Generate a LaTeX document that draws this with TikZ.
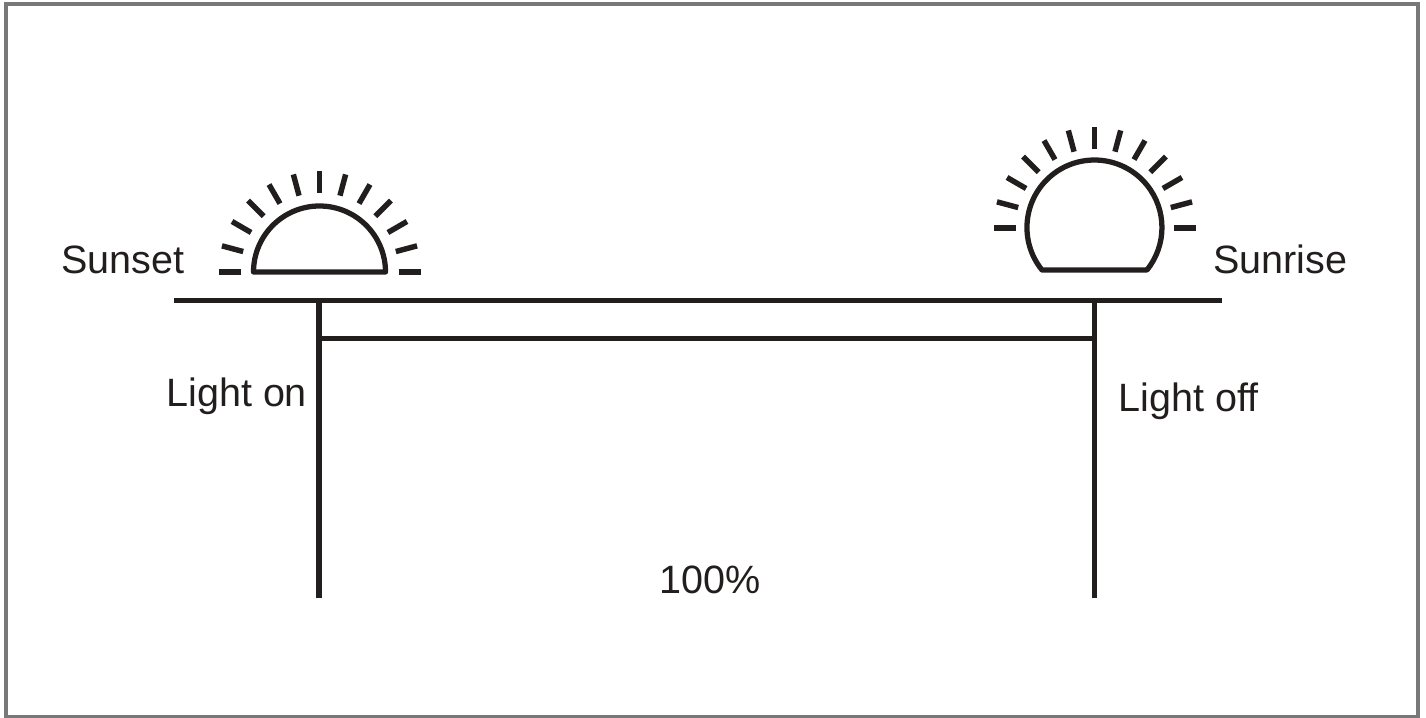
\documentclass[tikz,border=0pt]{standalone}
\usepackage{fontspec}
\setmainfont[Ligatures=NoCommon]{Liberation Sans}
\usepackage{xcolor}
\usetikzlibrary{positioning, calc}
\definecolor{inkLine}{RGB}{35, 30, 30}
\definecolor{frameGray}{RGB}{120, 120, 120}

\begin{document}
\begin{tikzpicture}[
        x=0.02cm, y=0.02cm,
        font=\fontsize{22.5}{26}\selectfont\color{inkLine},
        lbl/.style={inner sep=0pt, anchor=base west},
        bar/.style={line width=3pt, inkLine},
        sun/.style={line width=3pt, inkLine, line join=round},
        ray/.style={line width=3.1pt, inkLine}
    ]
    \useasboundingbox (0,0) rectangle (1426,717);
    \draw[frameGray, line width=2.5pt] (6,713) rectangle (1418,0);

    % sun going down
    \coordinate (setc) at (319.5,445);
    \draw[sun] (253.5,445) arc[start angle=180, end angle=0, radius=66] -- cycle;
    \foreach \a in {0,15,...,180}
        \draw[ray] ($(setc)+(\a:79)$) -- ($(setc)+(\a:101)$);

    % sun coming up
    \coordinate (risec) at (1094.5,489);
    \draw[sun] (1042,447) arc[start angle=219, end angle=-39, radius=67.5] -- cycle;
    \foreach \a in {0,15,...,180}
        \draw[ray] ($(risec)+(\a:79)$) -- ($(risec)+(\a:101)$);

    % time line
    \coordinate (tl) at (174,416.5);
    \coordinate (tr) at (1222,416.5);
    \coordinate (on) at (319,416.5);
    \coordinate (off) at (1094.5,416.5);
    \coordinate (onend) at (319,119);
    \coordinate (offend) at (1094.5,119);
    \coordinate (onmid) at (319,378.5);
    \coordinate (offmid) at (1094.5,378.5);
    \draw[bar] (tl) -- (tr);
    \draw[bar] (on) -- (onend);
    \draw[bar] (off) -- (offend);
    \draw[bar] (onmid) -- (offmid);

    \node[lbl] (sunset)   at (61,443)   {Sunset};
    \node[lbl] (sunrise)  at (1213,443) {Sunrise};
    \node[lbl] (lighton)  at (166,310)  {Light on};
    \node[lbl] (lightoff) at (1118,305) {Light off};
    \node[lbl] (pct)      at (659,124)  {100\%};
\end{tikzpicture}
\end{document}
